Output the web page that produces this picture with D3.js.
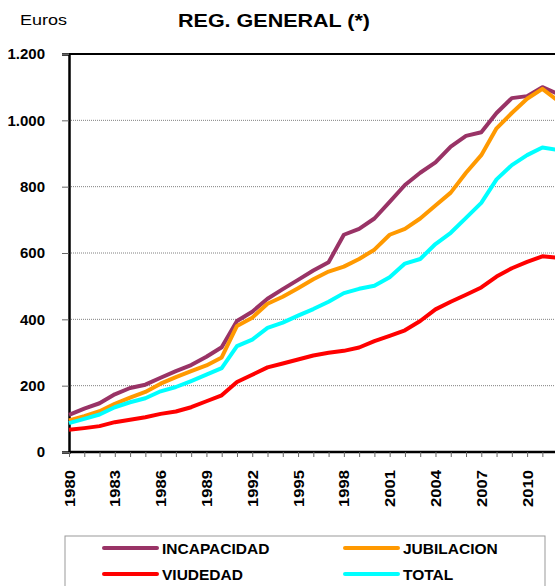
<!DOCTYPE html>
<html>
<head>
<meta charset="utf-8">
<script src="https://cdn.jsdelivr.net/npm/d3@7"></script>
<style>
  body { margin: 0; background: #fff; }
  svg { display: block; font-family: Arial, "Liberation Sans", sans-serif; }
</style>
</head>
<body>
<svg id="chart" width="555" height="586"></svg>
<script>
// years 1980..2012, euros per month
var years = d3.range(1980, 2013);
var incapacidad = [112, 131, 147, 174, 193, 203, 224, 244, 262, 287, 316, 395, 423, 462, 491, 519, 547, 572, 655, 673, 704, 754, 805, 842, 873, 921, 953, 964, 1022, 1067, 1073, 1100, 1080];
var jubilacion = [95, 108, 123, 145, 164, 181, 206, 226, 244, 261, 285, 380, 405, 447, 468, 494, 521, 544, 559, 582, 610, 655, 673, 704, 743, 782, 842, 895, 976, 1022, 1065, 1095, 1060];
var viudedad = [67, 72, 78, 90, 97, 105, 115, 122, 135, 153, 171, 211, 233, 255, 267, 279, 291, 299, 305, 315, 334, 350, 367, 395, 430, 453, 474, 496, 529, 554, 573, 590, 586];
var total = [87, 100, 113, 135, 150, 162, 183, 196, 214, 233, 253, 319, 339, 374, 390, 411, 431, 453, 479, 492, 501, 527, 568, 582, 627, 661, 706, 751, 822, 865, 895, 918, 911];
var yTicks = [0, 200, 400, 600, 800, 1000, 1200];
var xLabelYears = d3.range(1980, 2011, 3);

var series = [
  { name: "INCAPACIDAD", values: incapacidad, color: "#993366" },
  { name: "JUBILACION", values: jubilacion, color: "#FF9900" },
  { name: "VIUDEDAD", values: viudedad, color: "#FF0000" },
  { name: "TOTAL", values: total, color: "#00FFFF" }
];

var svg = d3.select("#chart");
var plotLeft = 69, plotTop = 54, plotBottom = 452, step = 15.27;

var x = d3.scaleLinear().domain([1980, 2012]).range([plotLeft, plotLeft + 32 * step]);
var y = d3.scaleLinear().domain([0, 1200]).range([plotBottom, plotTop]);

// title and unit
svg.append("text").attr("x", 20).attr("y", 25).attr("font-size", 15)
  .attr("textLength", 47).attr("lengthAdjust", "spacingAndGlyphs").text("Euros");
svg.append("text").attr("x", 178).attr("y", 27)
  .attr("font-size", 18).attr("font-weight", "bold")
  .attr("textLength", 192).attr("lengthAdjust", "spacingAndGlyphs").text("REG. GENERAL (*)");

// gridlines
svg.append("g").selectAll("line")
  .data(yTicks.filter(function(d) { return d > 0 && d < 1200; }))
  .enter().append("line")
  .attr("x1", plotLeft).attr("x2", 555)
  .attr("y1", function(d) { return y(d); }).attr("y2", function(d) { return y(d); })
  .attr("stroke", "#808080").attr("stroke-width", 1).attr("stroke-dasharray", "1,1");

// top border
svg.append("line").attr("x1", plotLeft).attr("x2", 555).attr("y1", y(1200)).attr("y2", y(1200))
  .attr("stroke", "#000").attr("stroke-width", 2);

// y axis
var yAxis = d3.axisLeft(y).tickValues(yTicks).tickSize(7).tickPadding(17)
  .tickFormat(function(d) { return d3.format(",")(d).replace(",", "."); });
var gy = svg.append("g").attr("transform", "translate(" + plotLeft + ",0)").call(yAxis);
gy.select(".domain").attr("stroke-width", 2.5);
gy.selectAll(".tick line").attr("stroke", "#666");
gy.selectAll("text").attr("font-size", 15).attr("font-weight", "bold").attr("fill", "#000")
  .attr("font-family", "Arial, 'Liberation Sans', sans-serif");

// x axis
var xAxis = d3.axisBottom(x).tickValues(years).tickSize(5).tickFormat("");
var gx = svg.append("g").attr("transform", "translate(0," + plotBottom + ")").call(xAxis);
gx.select(".domain").attr("stroke-width", 2.5).attr("d", "M" + plotLeft + ",0H600");
gx.selectAll(".tick line").attr("stroke", "#666");

svg.append("g").selectAll("text")
  .data(xLabelYears).enter().append("text")
  .attr("transform", function(d) { return "translate(" + (x(d) + 5.5) + ",470) rotate(-90)"; })
  .attr("text-anchor", "end")
  .attr("font-size", 15).attr("font-weight", "bold")
  .attr("textLength", 37).attr("lengthAdjust", "spacingAndGlyphs")
  .text(function(d) { return d; });

// lines
var line = d3.line()
  .x(function(d, i) { return x(years[i]); })
  .y(function(d) { return y(d); });

svg.append("g").selectAll("path")
  .data(series).enter().append("path")
  .attr("d", function(s) { return line(s.values); })
  .attr("fill", "none")
  .attr("stroke", function(s) { return s.color; })
  .attr("stroke-width", 4)
  .attr("stroke-linejoin", "round");

// legend
svg.append("rect").attr("x", 65).attr("y", 536).attr("width", 480).attr("height", 60)
  .attr("fill", "#fff").attr("stroke", "#999").attr("stroke-width", 1);

var lg = svg.append("g").selectAll("g")
  .data(series).enter().append("g")
  .attr("transform", function(s, i) {
    return "translate(" + (i % 2 === 0 ? 104 : 345) + "," + (i < 2 ? 548 : 574) + ")";
  });
lg.append("line").attr("x1", 0).attr("x2", 53).attr("y1", 0).attr("y2", 0)
  .attr("stroke", function(s) { return s.color; }).attr("stroke-width", 4)
  .attr("stroke-linecap", "round");
lg.append("text").attr("x", 58).attr("y", 5.5)
  .attr("font-size", 15.5).attr("font-weight", "bold")
  .text(function(s) { return s.name; });
</script>
</body>
</html>
